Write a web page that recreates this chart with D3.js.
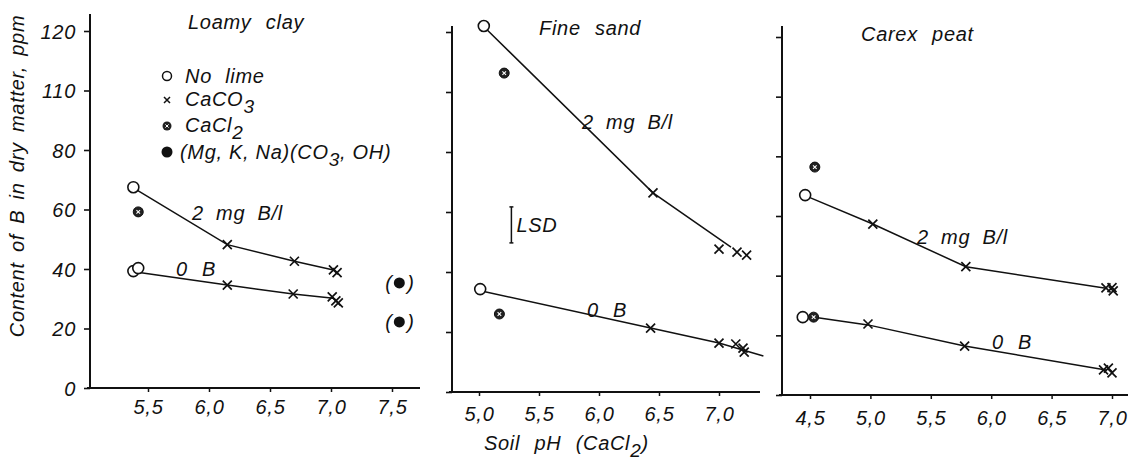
<!DOCTYPE html>
<html><head><meta charset="utf-8">
<script src="https://cdn.jsdelivr.net/npm/d3@7"></script>
<style>
body{margin:0;background:#fff;}
svg text{font-family:"Liberation Sans","DejaVu Sans",sans-serif;font-style:italic;fill:#111;letter-spacing:0.7px;}
</style></head>
<body><svg id="c" width="1133" height="462"></svg>
<script>
// ---------- data ----------
const panelTitles = ["Loamy clay", "Fine sand", "Carex peat"];
const yTickValues = [0, 20, 40, 60, 80, 100, 120];
const yTickLabels = ["0", "20", "40", "60", "80", "110", "120"];
const xTicks1 = [5.5, 6.0, 6.5, 7.0, 7.5];
const xTicks2 = [5.0, 5.5, 6.0, 6.5, 7.0];
const xTicks3 = [4.5, 5.0, 5.5, 6.0, 6.5, 7.0];
const legendLabels = ["No lime", "CaCO3", "CaCl2", "(Mg, K, Na)(CO3, OH)"];
const seriesLabels = ["2 mg B/l", "0 B"];

// Loamy clay
const lc2NoLime = [[5.38, 67.5]];
const lc2CaCl2 = [[5.42, 59.2]];
const lc2CaCO3 = [[6.15, 48.2], [6.70, 42.6], [7.02, 39.7], [7.05, 38.8]];
const lc2Line = [[5.39, 67.0], [6.15, 48.2], [6.70, 42.6], [7.02, 39.7]];
const lc0NoLime = [[5.38, 39.3], [5.42, 40.3]];
const lc0CaCO3 = [[6.15, 34.6], [6.69, 31.6], [7.01, 30.6], [7.04, 29.3], [7.06, 28.6]];
const lc0Line = [[5.40, 39.0], [6.15, 34.6], [6.69, 31.6], [7.02, 30.2]];
const lcMgKNa = [[7.56, 35.3], [7.56, 22.2]];

// Fine sand
const fs2NoLime = [[5.04, 122.0]];
const fs2CaCl2 = [[5.21, 106.3]];
const fs2CaCO3 = [[6.45, 66.4], [7.00, 47.6], [7.15, 46.6], [7.23, 45.6]];
const fs2Line = [[5.06, 121.0], [6.45, 66.4], [7.10, 48.3]];
const fs0NoLime = [[5.01, 34.3]];
const fs0CaCl2 = [[5.17, 26.0]];
const fs0CaCO3 = [[6.43, 21.3], [7.00, 16.3], [7.14, 16.0], [7.20, 14.6], [7.21, 13.3]];
const fs0Line = [[5.04, 33.5], [6.43, 21.3], [7.00, 16.3], [7.37, 12.0]];
const fsLSD = [5.27, 49.7, 61.7];

// Carex peat
const cp2NoLime = [[4.46, 67.0]];
const cp2CaCl2 = [[4.54, 76.4]];
const cp2CaCO3 = [[5.02, 57.3], [5.79, 43.0], [6.95, 35.9], [7.00, 36.0], [7.01, 34.9]];
const cp2Line = [[4.48, 66.5], [5.02, 57.3], [5.79, 43.0], [6.95, 35.8]];
const cp0NoLime = [[4.44, 26.1]];
const cp0CaCl2 = [[4.53, 26.1]];
const cp0CaCO3 = [[4.98, 23.8], [5.78, 16.4], [6.93, 8.4], [6.97, 9.0], [7.00, 7.4]];
const cp0Line = [[4.55, 26.0], [4.98, 23.5], [5.78, 16.4], [6.95, 8.4]];

// ---------- layout ----------
const svg = d3.select("#c");
const fs = 20;
const subFs = 19;
const panels = [
  {title: panelTitles[0], ticks: xTicks1, xd: [5.5, 7.5], xr: [148, 392], yr: [388, 31], axisX: 90, xEnd: 420, yTop: 14, titleX: 188, titleY: 29, tickLabY: 414,
   s2: {open: lc2NoLime, cl: lc2CaCl2, x: lc2CaCO3, line: lc2Line}, s0: {open: lc0NoLime, cl: [], x: lc0CaCO3, line: lc0Line},
   lab2: [192, 220], lab0: [176, 276]},
  {title: panelTitles[1], ticks: xTicks2, xd: [5.0, 7.0], xr: [479, 719], yr: [392, 32], axisX: 452, xEnd: 760, yTop: 26, titleX: 539, titleY: 35, tickLabY: 421,
   s2: {open: fs2NoLime, cl: fs2CaCl2, x: fs2CaCO3, line: fs2Line}, s0: {open: fs0NoLime, cl: fs0CaCl2, x: fs0CaCO3, line: fs0Line},
   lab2: [582, 129], lab0: [587, 317]},
  {title: panelTitles[2], ticks: xTicks3, xd: [4.5, 7.0], xr: [810, 1112], yr: [395, 37], axisX: 782, xEnd: 1128, yTop: 26, titleX: 861, titleY: 41, tickLabY: 425,
   s2: {open: cp2NoLime, cl: cp2CaCl2, x: cp2CaCO3, line: cp2Line}, s0: {open: cp0NoLime, cl: cp0CaCl2, x: cp0CaCO3, line: cp0Line},
   lab2: [917, 244], lab0: [992, 349]}
];

function drawOpen(g, pts, x, y) {
  g.selectAll(null).data(pts).enter().append("circle")
    .attr("cx", d => x(d[0])).attr("cy", d => y(d[1])).attr("r", 5.5)
    .attr("fill", "#fff").attr("stroke", "#111").attr("stroke-width", 1.6);
}
function drawCross(g, pts, x, y) {
  const s = 4.5;
  pts.forEach(d => {
    const cx = x(d[0]), cy = y(d[1]);
    g.append("path").attr("d", `M${cx - s},${cy - s}L${cx + s},${cy + s}M${cx - s},${cy + s}L${cx + s},${cy - s}`)
      .attr("stroke", "#111").attr("stroke-width", 1.7).attr("fill", "none");
  });
}
function drawCl(g, pts, x, y) {
  pts.forEach(d => {
    const cx = x(d[0]), cy = y(d[1]);
    g.append("circle").attr("cx", cx).attr("cy", cy).attr("r", 5).attr("fill", "#222").attr("stroke", "#111").attr("stroke-width", 1);
    const s = 1.8;
    g.append("path").attr("d", `M${cx - s},${cy - s}L${cx + s},${cy + s}M${cx - s},${cy + s}L${cx + s},${cy - s}`)
      .attr("stroke", "#fff").attr("stroke-width", 1.1);
  });
}
function drawFilled(g, pts, x, y) {
  g.selectAll(null).data(pts).enter().append("circle")
    .attr("cx", d => x(d[0])).attr("cy", d => y(d[1])).attr("r", 5.5).attr("fill", "#111");
}

const fmt = v => d3.format(".1f")(v).replace(".", ",");

panels.forEach((p, i) => {
  const x = d3.scaleLinear().domain(p.xd).range(p.xr);
  const y = d3.scaleLinear().domain([0, 120]).range(p.yr);
  const g = svg.append("g");
  const x0 = x.invert(p.axisX), x1 = x.invert(p.xEnd);

  // y axis
  const yAxis = d3.axisLeft(y).tickValues(yTickValues).tickSize(6).tickSizeOuter(0)
    .tickFormat((d, k) => i === 0 ? yTickLabels[k] : "");
  const ya = g.append("g").attr("transform", `translate(${p.axisX},0)`).call(yAxis);
  ya.select(".domain").remove();
  ya.selectAll("line").attr("stroke", "#111").attr("stroke-width", 1.6);
  ya.selectAll("text").attr("font-size", fs).attr("x", -14).attr("dy", "0.36em").attr("font-family", null);
  g.append("line").attr("x1", p.axisX).attr("x2", p.axisX).attr("y1", p.yTop).attr("y2", y(0))
    .attr("stroke", "#111").attr("stroke-width", 2);

  // x axis
  const xAxis = d3.axisBottom(x).tickValues(p.ticks).tickSize(4).tickSizeOuter(0).tickFormat(fmt);
  const xa = g.append("g").attr("transform", `translate(0,${y(0)})`).call(xAxis);
  xa.select(".domain").remove();
  xa.selectAll("line").attr("stroke", "#111").attr("stroke-width", 1.5);
  xa.selectAll("text").attr("font-size", fs).attr("font-family", null).attr("y", null).attr("dy", null)
    .attr("transform", `translate(0,${p.tickLabY - y(0)})`);
  g.append("line").attr("x1", x(x0) - 3).attr("x2", x(x1)).attr("y1", y(0)).attr("y2", y(0))
    .attr("stroke", "#111").attr("stroke-width", 2);

  // title
  g.append("text").attr("x", p.titleX).attr("y", p.titleY).attr("font-size", fs).attr("word-spacing", 8).text(p.title);

  const line = d3.line().x(d => x(d[0])).y(d => y(d[1]));
  [p.s2, p.s0].forEach(s => {
    g.append("path").datum(s.line).attr("d", line).attr("fill", "none").attr("stroke", "#111").attr("stroke-width", 1.5);
    drawCross(g, s.x, x, y);
    drawOpen(g, s.open, x, y);
    drawCl(g, s.cl, x, y);
  });

  g.append("text").attr("x", p.lab2[0]).attr("y", p.lab2[1]).attr("font-size", fs).attr("word-spacing", 6).text(seriesLabels[0]);
  g.append("text").attr("x", p.lab0[0]).attr("y", p.lab0[1]).attr("font-size", fs).attr("word-spacing", 8).text(seriesLabels[1]);

  if (i === 0) {
    drawFilled(g, lcMgKNa, x, y);
    lcMgKNa.forEach(d => {
      g.append("text").attr("x", x(d[0]) - 14).attr("y", y(d[1]) + 7).attr("font-size", fs).attr("font-style", "normal").text("(");
      g.append("text").attr("x", x(d[0]) + 8).attr("y", y(d[1]) + 7).attr("font-size", fs).attr("font-style", "normal").text(")");
    });
    // legend
    const lx = 167, ly = [76, 100, 126, 152];
    g.append("circle").attr("cx", lx).attr("cy", ly[0]).attr("r", 4.5).attr("fill", "#fff").attr("stroke", "#111").attr("stroke-width", 1.5);
    g.append("path").attr("d", `M${lx - 3},${ly[1] - 3}L${lx + 3},${ly[1] + 3}M${lx - 3},${ly[1] + 3}L${lx + 3},${ly[1] - 3}`).attr("stroke", "#111").attr("stroke-width", 1.5);
    g.append("circle").attr("cx", lx).attr("cy", ly[2]).attr("r", 4.5).attr("fill", "#222");
    g.append("path").attr("d", `M${lx - 1.6},${ly[2] - 1.6}L${lx + 1.6},${ly[2] + 1.6}M${lx - 1.6},${ly[2] + 1.6}L${lx + 1.6},${ly[2] - 1.6}`).attr("stroke", "#fff").attr("stroke-width", 1);
    g.append("circle").attr("cx", lx).attr("cy", ly[3]).attr("r", 5.5).attr("fill", "#111");
    const tx = 185;
    g.append("text").attr("x", tx).attr("y", ly[0] + 7).attr("font-size", fs).attr("word-spacing", 7).text(legendLabels[0]);
    const t1 = g.append("text").attr("x", tx).attr("y", ly[1] + 6).attr("font-size", fs);
    t1.append("tspan").text("CaCO");
    t1.append("tspan").attr("dy", 7).attr("font-size", subFs).text("3");
    const t2 = g.append("text").attr("x", tx).attr("y", ly[2] + 6).attr("font-size", fs);
    t2.append("tspan").text("CaCl");
    t2.append("tspan").attr("dy", 7).attr("font-size", subFs).text("2");
    const t3 = g.append("text").attr("x", tx - 5).attr("y", ly[3] + 7).attr("font-size", fs);
    t3.append("tspan").text("(Mg, K, Na)(CO");
    t3.append("tspan").attr("dy", 7).attr("font-size", subFs).text("3");
    t3.append("tspan").attr("dy", -7).text(", OH)");
  }
  if (i === 1) {
    const lx = x(fsLSD[0]);
    g.append("line").attr("x1", lx).attr("x2", lx).attr("y1", y(fsLSD[1])).attr("y2", y(fsLSD[2])).attr("stroke", "#111").attr("stroke-width", 1.5);
    [fsLSD[1], fsLSD[2]].forEach(v => g.append("line").attr("x1", lx - 2).attr("x2", lx + 2).attr("y1", y(v)).attr("y2", y(v)).attr("stroke", "#111").attr("stroke-width", 1.5));
    g.append("text").attr("x", lx + 5).attr("y", y((fsLSD[1] + fsLSD[2]) / 2) + 7).attr("font-size", fs).text("LSD");
    // x-axis title
    const xt = g.append("text").attr("x", 484).attr("y", 450).attr("font-size", fs).attr("word-spacing", 8);
    xt.append("tspan").text("Soil pH (CaCl");
    xt.append("tspan").attr("dy", 7).attr("font-size", subFs).text("2");
    xt.append("tspan").attr("dy", -7).text(")");
  }
});

// y-axis title
svg.append("text").attr("transform", "translate(24,176) rotate(-90)").attr("text-anchor", "middle")
  .attr("font-size", fs).attr("letter-spacing", 1.2).attr("word-spacing", 4).text("Content of B in dry matter, ppm");
</script></body></html>
